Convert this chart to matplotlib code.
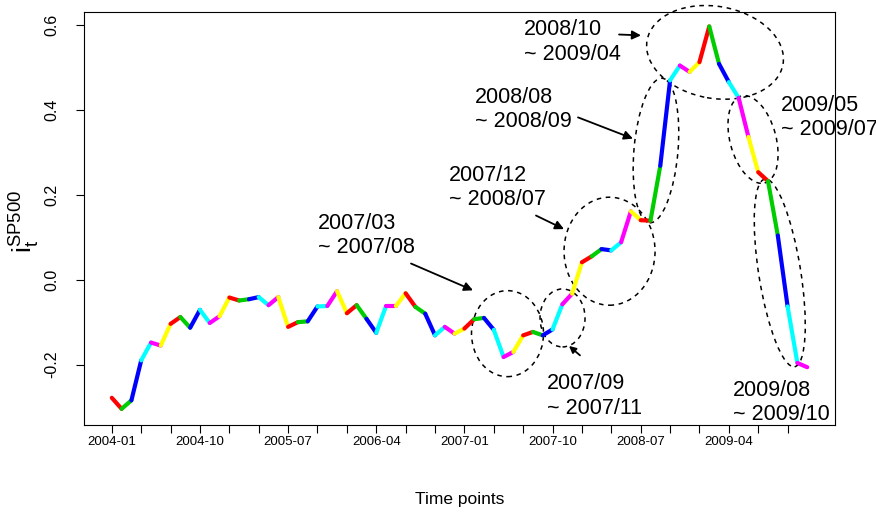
import numpy as np
import matplotlib
matplotlib.use("Agg")
import matplotlib.pyplot as plt
from matplotlib.patches import Ellipse
from matplotlib.transforms import IdentityTransform

plt.rcParams['font.family'] = ['Liberation Sans', 'DejaVu Sans']
plt.rcParams['mathtext.fontset'] = 'custom'
plt.rcParams['mathtext.rm'] = 'Liberation Sans'
plt.rcParams['mathtext.it'] = 'Liberation Sans'

# monthly index values, 2004-01 .. 2009-12
values = [-0.278, -0.304, -0.284, -0.190, -0.148, -0.155, -0.104, -0.088, -0.113, -0.071,
          -0.102, -0.086, -0.042, -0.049, -0.046, -0.041, -0.060, -0.041, -0.111, -0.100,
          -0.098, -0.063, -0.062, -0.027, -0.079, -0.060, -0.092, -0.125, -0.062, -0.062,
          -0.032, -0.064, -0.080, -0.131, -0.111, -0.127, -0.115, -0.093, -0.090, -0.118,
          -0.182, -0.170, -0.131, -0.123, -0.131, -0.117, -0.058, -0.033, 0.041, 0.055,
          0.072, 0.069, 0.088, 0.161, 0.140, 0.139, 0.268, 0.469, 0.504, 0.489,
          0.512, 0.596, 0.508, 0.465, 0.428, 0.336, 0.253, 0.232, 0.104, -0.063,
          -0.196, -0.206]
seg_colors = ["#FF0000", "#00CD00", "#0000FF", "#00FFFF", "#FF00FF", "#FFFF00"]

tick_pos = list(range(0, 72, 3))
label_pos = [0, 9, 18, 27, 36, 45, 54, 63]
tick_labels = ["2004-01", "2004-10", "2005-07", "2006-04", "2007-01", "2007-10", "2008-07", "2009-04"]
yticks = [-0.2, 0.0, 0.2, 0.4, 0.6]

# periods marked on the chart
periods = ["2007/03\n~ 2007/08", "2007/09\n~ 2007/11", "2007/12\n~ 2008/07",
           "2008/08\n~ 2008/09", "2008/10\n~ 2009/04", "2009/05\n~ 2009/07",
           "2009/08\n~ 2009/10"]

fig = plt.figure(figsize=(8.76, 5.12), dpi=100)
ax = fig.add_axes([84/876, 1 - 425/512, (835-84)/876, (425-12)/512])

x = np.arange(len(values))
y = np.array(values)
for i in range(len(values) - 1):
    ax.plot(x[i:i+2], y[i:i+2], color=seg_colors[i % 6], lw=3.0, solid_capstyle='round')

ax.set_xlim(-2.84, 73.84)
ax.set_ylim(-0.342, 0.630)

ax.set_xticks(tick_pos)
ax.set_xticklabels([tick_labels[label_pos.index(t)] if t in label_pos else "" for t in tick_pos],
                   fontsize=9.5)
ax.set_yticks(yticks)
ax.set_yticklabels(["-0.2", "0.0", "0.2", "0.4", "0.6"], rotation=90, va='center', fontsize=11.5)
ax.tick_params(axis='x', length=6, width=0.8, pad=2)
ax.tick_params(axis='y', length=6, width=0.8, pad=12)
for s in ax.spines.values():
    s.set_linewidth(0.8)

ax.text(-0.079, 0.493, r'$\mathregular{i_t^{SP500}}$', transform=ax.transAxes,
        rotation=90, ha='center', va='center', fontsize=19)
ax.text(0.5, -0.162, "Time points", transform=ax.transAxes, ha='center', va='top', fontsize=12.5)

# text blocks: left x, baseline of second line
text_xy = [(21.05, 0.062), (44.44, -0.315), (34.43, 0.176), (37.08, 0.359),
           (42.06, 0.518), (68.33, 0.340), (63.43, -0.331)]
for lab, (tx, ty) in zip(periods, text_xy):
    ax.text(tx, ty, lab, ha='left', va='baseline', fontsize=15.5, linespacing=1.2, clip_on=False)

arrows = [((30.55, 0.038), (36.88, -0.025)),
          ((47.80, -0.178), (46.68, -0.156)),
          ((43.31, 0.151), (46.17, 0.119)),
          ((47.60, 0.382), (53.21, 0.332)),
          ((51.79, 0.577), (54.03, 0.575))]
for k, (tail, head) in enumerate(arrows):
    ax.annotate('', xy=head, xytext=tail,
                arrowprops=dict(arrowstyle='-|>', color='black', lw=1.3,
                                mutation_scale=10 if k == 1 else 13, shrinkA=0, shrinkB=0))

fig.canvas.draw()
# ellipses: centre in data, size in pixels, angle
ell = [((40.40, -0.127), 72, 86, 0), ((46.02, -0.090), 45, 58, 0),
       ((50.82, 0.067), 91, 108, 0), ((55.56, 0.304), 44, 145, -5),
       ((61.59, 0.535), 138, 92, -10), ((65.47, 0.330), 46, 90, 15),
       ((68.20, 0.016), 42, 190, 9)]
for c, w, h, a in ell:
    cx, cy = ax.transData.transform(c)
    e = Ellipse((cx, cy), w, h, angle=a, transform=IdentityTransform(),
                fill=False, ec='black', lw=1.1, ls=(0, (3, 3)), clip_on=False)
    ax.add_patch(e)

fig.savefig("out.png", dpi=100)
